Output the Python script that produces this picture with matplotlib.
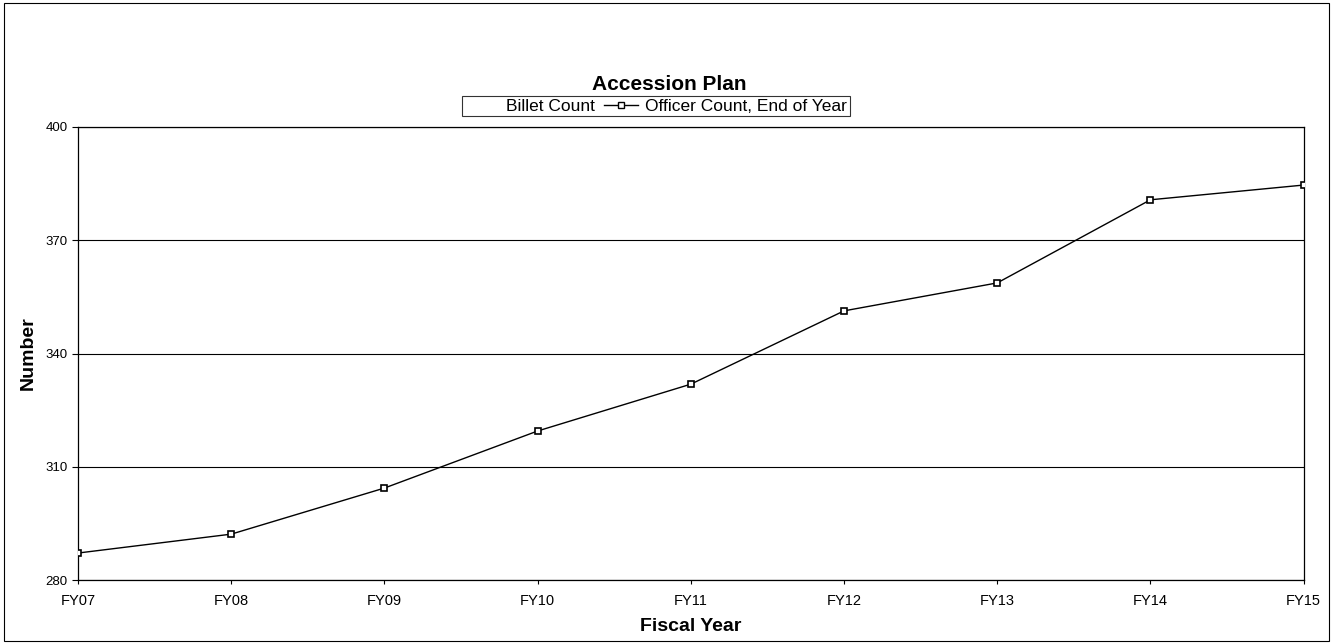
import matplotlib.pyplot as plt
from matplotlib.lines import Line2D

plt.rcParams['font.family'] = ['Liberation Sans', 'DejaVu Sans']

# ───────────────────────────────
# Data
# ───────────────────────────────
years = ["FY07", "FY08", "FY09", "FY10", "FY11", "FY12", "FY13", "FY14", "FY15"]
officer_count = [287.2, 292.2, 304.4, 319.5, 331.9, 351.3, 358.7, 380.7, 384.6]
y_ticks = [280, 310, 340, 370, 400]

fig = plt.figure(figsize=(13.33, 6.44), dpi=100)
ax = fig.add_axes([0.0585, 0.099, 0.9195, 0.704])

x = list(range(len(years)))
ax.plot(x, officer_count, color="black", lw=1.0, marker="s", markersize=5,
        markerfacecolor="white", markeredgecolor="black", markeredgewidth=1.2,
        zorder=3)

ax.set_xlim(0, len(years) - 1)
ax.set_ylim(280, 400)
ax.set_xticks(x)
ax.set_xticklabels(years, fontsize=10.5)
ax.set_yticks(y_ticks)
ax.tick_params(axis="y", labelsize=9.5, length=4, direction="out")
ax.tick_params(axis="x", length=3, direction="out", pad=7)
ax.yaxis.grid(True, color="black", lw=0.8)
ax.set_axisbelow(True)
for s in ax.spines.values():
    s.set_linewidth(0.9)

ax.set_xlabel("Fiscal Year", fontsize=14, fontweight="bold", labelpad=7)
ax.set_ylabel("Number", fontsize=14, fontweight="bold", labelpad=6)

fig.text(0.502, 0.869, "Accession Plan", ha="center", va="center",
         fontsize=15, fontweight="bold")

handles = [
    Line2D([], [], color="white", lw=1.0),
    Line2D([], [], color="black", lw=1.0, marker="s", markersize=5,
           markerfacecolor="white", markeredgecolor="black"),
]
leg = fig.legend(handles, ["Billet Count", "Officer Count, End of Year"],
                 loc="center", bbox_to_anchor=(0.492, 0.835), ncol=2,
                 fontsize=12.5, frameon=True, fancybox=False, edgecolor="black",
                 handlelength=2.0, handletextpad=0.4, columnspacing=0.5,
                 borderpad=0.15)
leg.get_frame().set_linewidth(0.8)

# outer border of the chart
fig.patches.append(plt.Rectangle((0.003, 0.005), 0.994, 0.99, fill=False,
                                 edgecolor="black", lw=0.8,
                                 transform=fig.transFigure))

fig.savefig("out.png", dpi=100)
